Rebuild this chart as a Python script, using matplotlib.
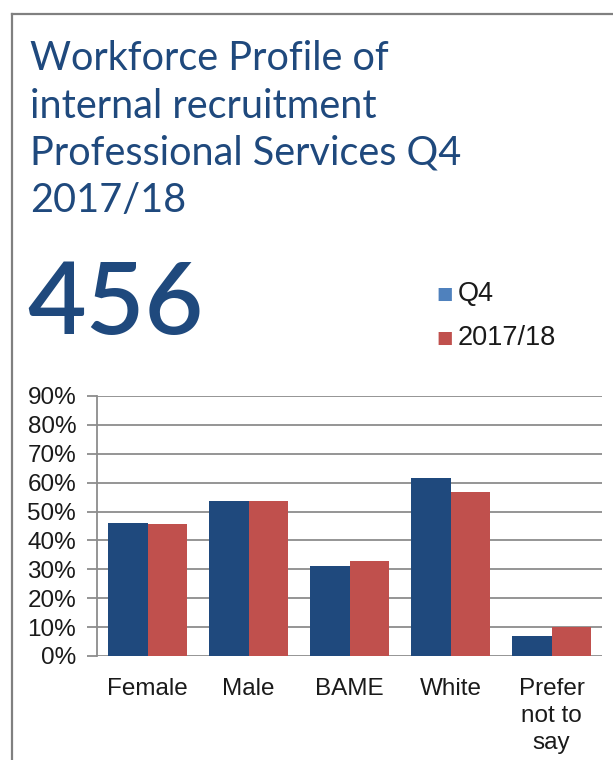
import matplotlib
matplotlib.use("Agg")
import matplotlib.pyplot as plt
from matplotlib.lines import Line2D
import numpy as np

categories = ["Female", "Male", "BAME", "White", "Prefer\nnot to\nsay"]
q4_values = [46.0, 53.7, 31.0, 61.6, 7.0]
year_values = [45.7, 53.7, 33.0, 56.8, 10.0]
series_names = ["Q4", "2017/18"]
y_ticks = [0, 10, 20, 30, 40, 50, 60, 70, 80, 90]
title_lines = ["Workforce Profile of", "internal recruitment",
               "Professional Services Q4", "2017/18"]
headline = "456"

navy = "#1F497D"
red = "#C0504D"
legend_blue = "#4F81BD"
grid_grey = "#8C8C8C"

W, H = 613, 760
fig = plt.figure(figsize=(W / 100, H / 100), dpi=100)
fig.patch.set_facecolor("white")

# outer panel frame (left and top edges)
fig.add_artist(Line2D([12 / W, 12 / W], [0, 1 - 14 / H], transform=fig.transFigure,
                      color="#808080", lw=1.6))
fig.add_artist(Line2D([12 / W, 1], [1 - 14 / H, 1 - 14 / H], transform=fig.transFigure,
                      color="#808080", lw=1.6))

# title block
title_y = [59, 106, 153, 201]
for txt, y in zip(title_lines, title_y):
    fig.text(30 / W, 1 - y / H, txt, fontsize=28.5, family="Lato", color=navy,
             va="center", ha="left")
fig.text(27 / W, 1 - 305 / H, headline, fontsize=73, family="Lato", weight="semibold",
         color=navy, va="center", ha="left")

# legend
for name, col, y in zip(series_names, [legend_blue, red], [294, 338]):
    fig.text(445 / W, 1 - y / H, "\u25A0", fontsize=12.5, family="DejaVu Sans", color=col,
             va="center", ha="center")
    fig.text(458 / W, 1 - y / H, name, fontsize=19.5, family="Liberation Sans",
             color="#1a1a1a", va="center", ha="left")

# bar chart
ax = fig.add_axes([97 / W, 1 - 656 / H, (602 - 97) / W, (656 - 396) / H])
x = np.arange(len(categories))
bw = 0.39
ax.bar(x - bw / 2, q4_values, width=bw, color=navy, zorder=3)
ax.bar(x + bw / 2, year_values, width=bw, color=red, zorder=3)

ax.set_xlim(-0.5, len(categories) - 0.5)
ax.set_ylim(0, 90)
ax.set_yticks(y_ticks)
ax.set_yticklabels([f"{t}%" for t in y_ticks])
ax.set_xticks(x)
ax.set_xticklabels(categories, linespacing=1.3)

for t in y_ticks:
    ax.axhline(t, color=grid_grey, lw=1.3, zorder=1)

for s in ["top", "right", "bottom"]:
    ax.spines[s].set_visible(False)
ax.spines["left"].set_color(grid_grey)
ax.spines["left"].set_linewidth(1.3)

ax.tick_params(axis="y", length=7, width=1.3, color=grid_grey, pad=8,
               labelsize=17.5, labelcolor="#1a1a1a")
ax.tick_params(axis="x", length=0, pad=15.5, labelsize=17.5, labelcolor="#1a1a1a")
for lab in ax.get_xticklabels() + ax.get_yticklabels():
    lab.set_family("Liberation Sans")

fig.savefig("out.png", dpi=100, facecolor="white")
